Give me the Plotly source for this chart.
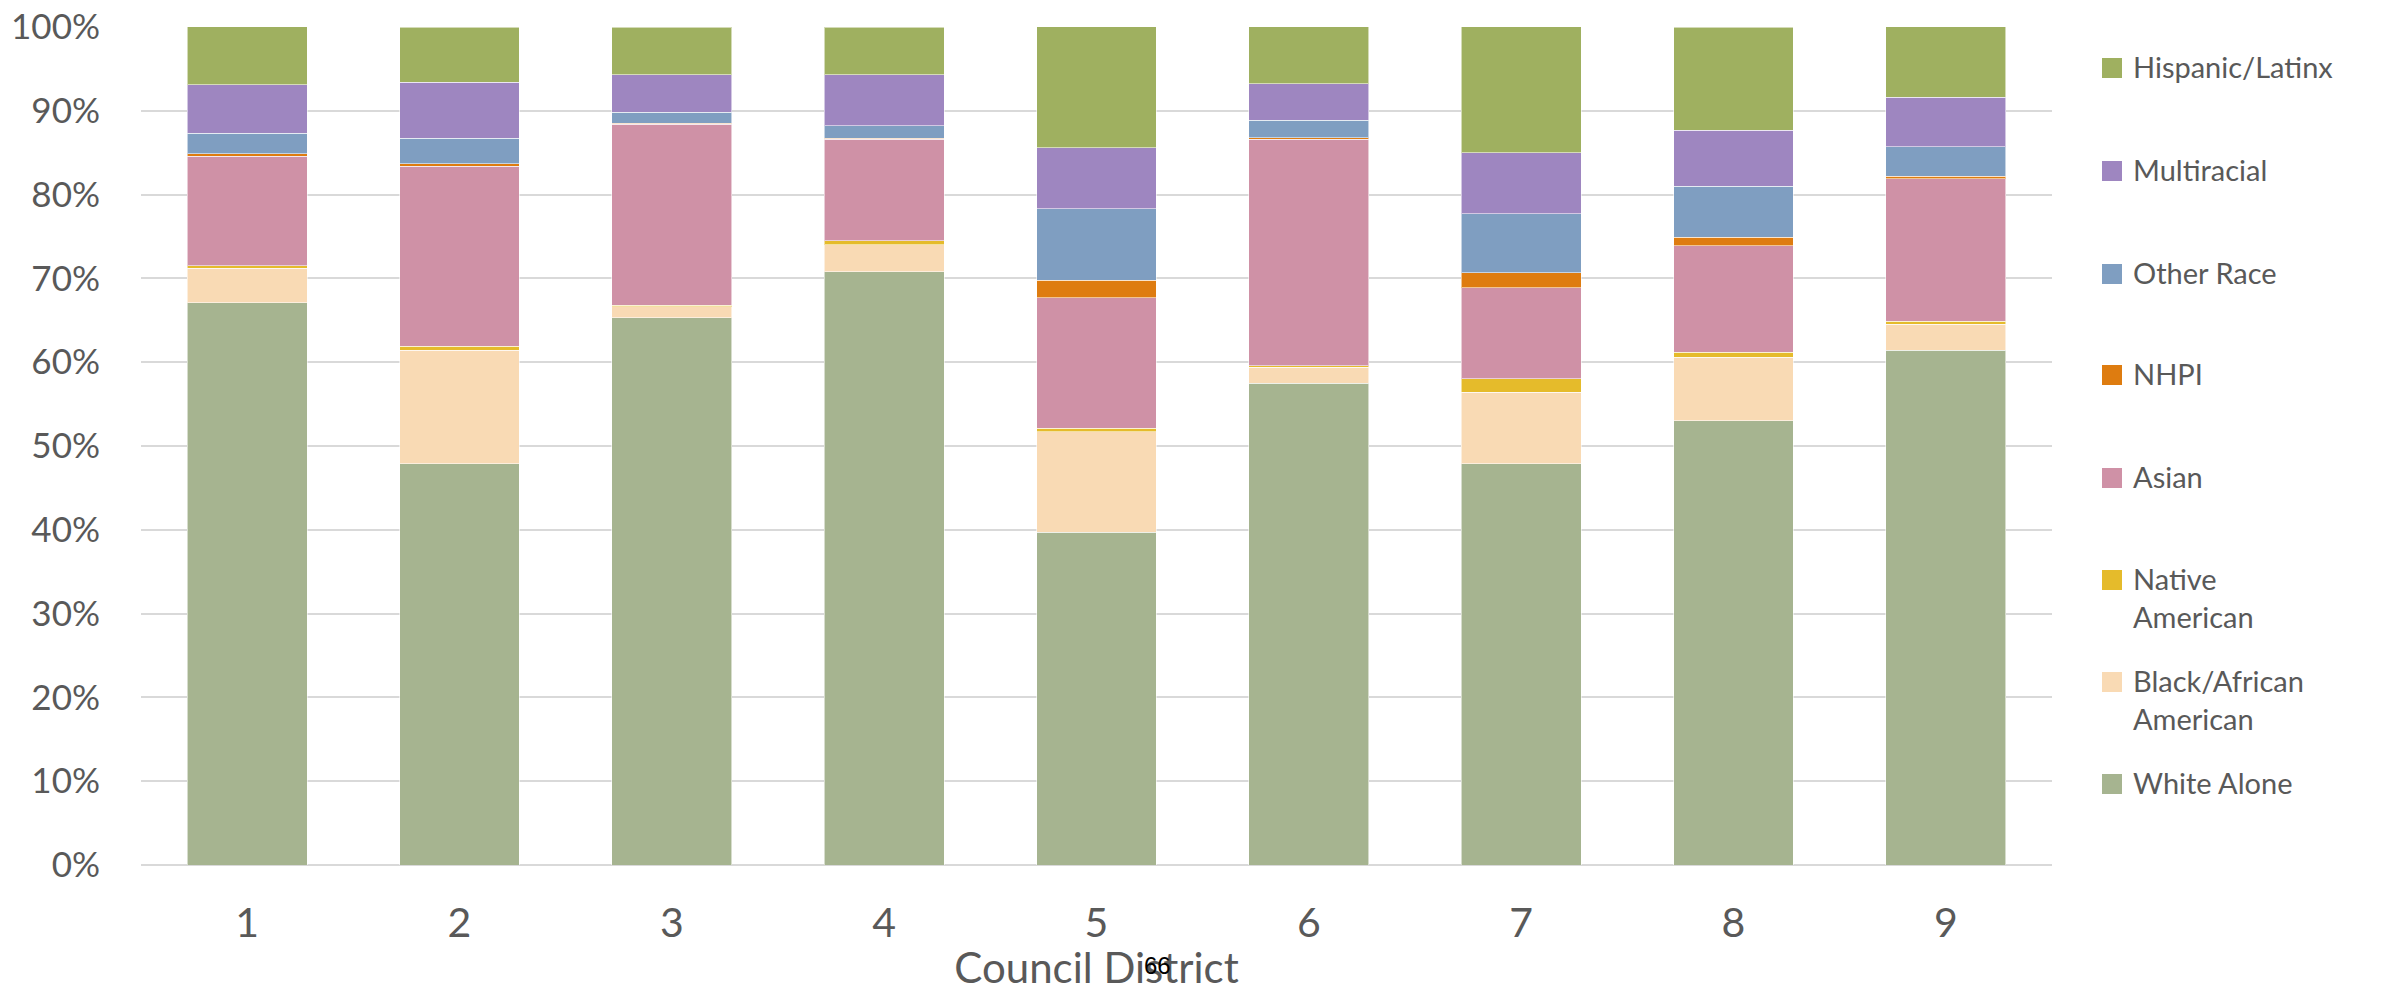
import plotly.graph_objects as go

# ---------------- data ----------------
districts = ["1", "2", "3", "4", "5", "6", "7", "8", "9"]

white_alone = [67.1, 47.9, 65.3, 70.8, 39.7, 57.5, 47.9, 53.0, 61.4]
black_african_american = [4.1, 13.5, 1.3, 3.2, 12.0, 1.9, 8.5, 7.6, 3.1]
native_american = [0.3, 0.5, 0.2, 0.5, 0.4, 0.2, 1.6, 0.6, 0.4]
asian = [13.1, 21.5, 21.6, 12.1, 15.6, 27.0, 10.9, 12.7, 17.0]
nhpi = [0.3, 0.3, 0.1, 0.1, 2.1, 0.2, 1.8, 1.0, 0.3]
other_race = [2.4, 3.0, 1.3, 1.5, 8.5, 2.1, 7.0, 6.1, 3.5]
multiracial = [5.8, 6.7, 4.5, 6.1, 7.3, 4.3, 7.3, 6.7, 5.9]
hispanic_latinx = [7.0, 6.6, 5.7, 5.7, 14.5, 6.9, 15.1, 12.3, 8.5]

series_names = ["White Alone", "Black/African<br>American", "Native<br>American", "Asian",
                "NHPI", "Other Race", "Multiracial", "Hispanic/Latinx"]
series_values = [white_alone, black_african_american, native_american, asian,
                 nhpi, other_race, multiracial, hispanic_latinx]
series_colors = ["#A6B490", "#F9DAB4", "#E5BB2B", "#CF91A6",
                 "#DE7C10", "#7F9EC1", "#9E86C0", "#9FB060"]

y_ticks = [0, 10, 20, 30, 40, 50, 60, 70, 80, 90, 100]
y_tick_labels = ["0%", "10%", "20%", "30%", "40%", "50%", "60%", "70%", "80%", "90%", "100%"]

# ---------------- geometry (px) ----------------
W, H = 2387, 992
PL, PR, PT, PB = 141, 2052, 27, 865
TEXT = "#595959"
FONT = "Lato"


def px_x(px):
    return (px - PL) / (PR - PL)


def px_y(py):
    return (PB - py) / (PB - PT)


fig = go.Figure()
for name, vals, col in zip(series_names, series_values, series_colors):
    fig.add_trace(go.Bar(
        x=districts, y=vals, name=name.replace("<br>", " "),
        marker=dict(color=col, line=dict(color="rgba(255,255,255,0.55)", width=1)),
        showlegend=False,
    ))

fig.update_layout(
    barmode="stack",
    bargap=0.435,
    width=W, height=H, autosize=False,
    margin=dict(l=PL, r=W - PR, t=PT, b=H - PB, pad=0, autoexpand=False),
    paper_bgcolor="white", plot_bgcolor="white",
    font=dict(family=FONT, color=TEXT),
    xaxis=dict(
        automargin=False,
        showgrid=False, showline=False, zeroline=False,
        ticks="outside", ticklen=22, tickcolor="rgba(0,0,0,0)",
        tickfont=dict(size=41, color=TEXT, family=FONT),
        title=dict(text="Council District", font=dict(size=42, color=TEXT, family=FONT), standoff=16),
    ),
    yaxis=dict(
        automargin=False,
        range=[0, 100], tickmode="array", tickvals=y_ticks, ticktext=y_tick_labels,
        showgrid=True, gridcolor="#D9D9D9", gridwidth=2,
        zeroline=True, zerolinecolor="#D9D9D9", zerolinewidth=2,
        showline=False,
        ticks="outside", ticklen=33, tickcolor="rgba(0,0,0,0)",
        tickfont=dict(size=35, color=TEXT, family=FONT),
    ),
)

# ---------------- manual legend (top to bottom) ----------------
legend_first_line_y = [68, 171, 274, 375, 478, 580, 682, 784]
order = list(range(len(series_names)))[::-1]
for yy, idx in zip(legend_first_line_y, order):
    fig.add_shape(type="rect", xref="paper", yref="paper",
                  x0=px_x(2102), x1=px_x(2122), y0=px_y(yy - 10), y1=px_y(yy + 10),
                  fillcolor=series_colors[idx], line=dict(width=0))
    fig.add_annotation(xref="paper", yref="paper", x=px_x(2131), y=px_y(yy - 21),
                       xanchor="left", yanchor="top", showarrow=False, align="left",
                       text=series_names[idx],
                       font=dict(size=29, color=TEXT, family=FONT))

# page number and source note
fig.add_annotation(xref="paper", yref="paper", x=px_x(1157), y=px_y(965),
                   xanchor="center", yanchor="middle", showarrow=False,
                   text="66", font=dict(size=24, color="black", family="Liberation Sans"))
fig.add_annotation(xref="paper", yref="paper", x=px_x(46), y=px_y(989),
                   xanchor="left", yanchor="top", showarrow=False,
                   text="ACS 2015-19", font=dict(size=30, color="black", family="Liberation Sans"))

fig.write_html("out.html", config={"displayModeBar": False},
               post_script="document.body.style.margin='0';document.body.style.overflow='hidden';")
